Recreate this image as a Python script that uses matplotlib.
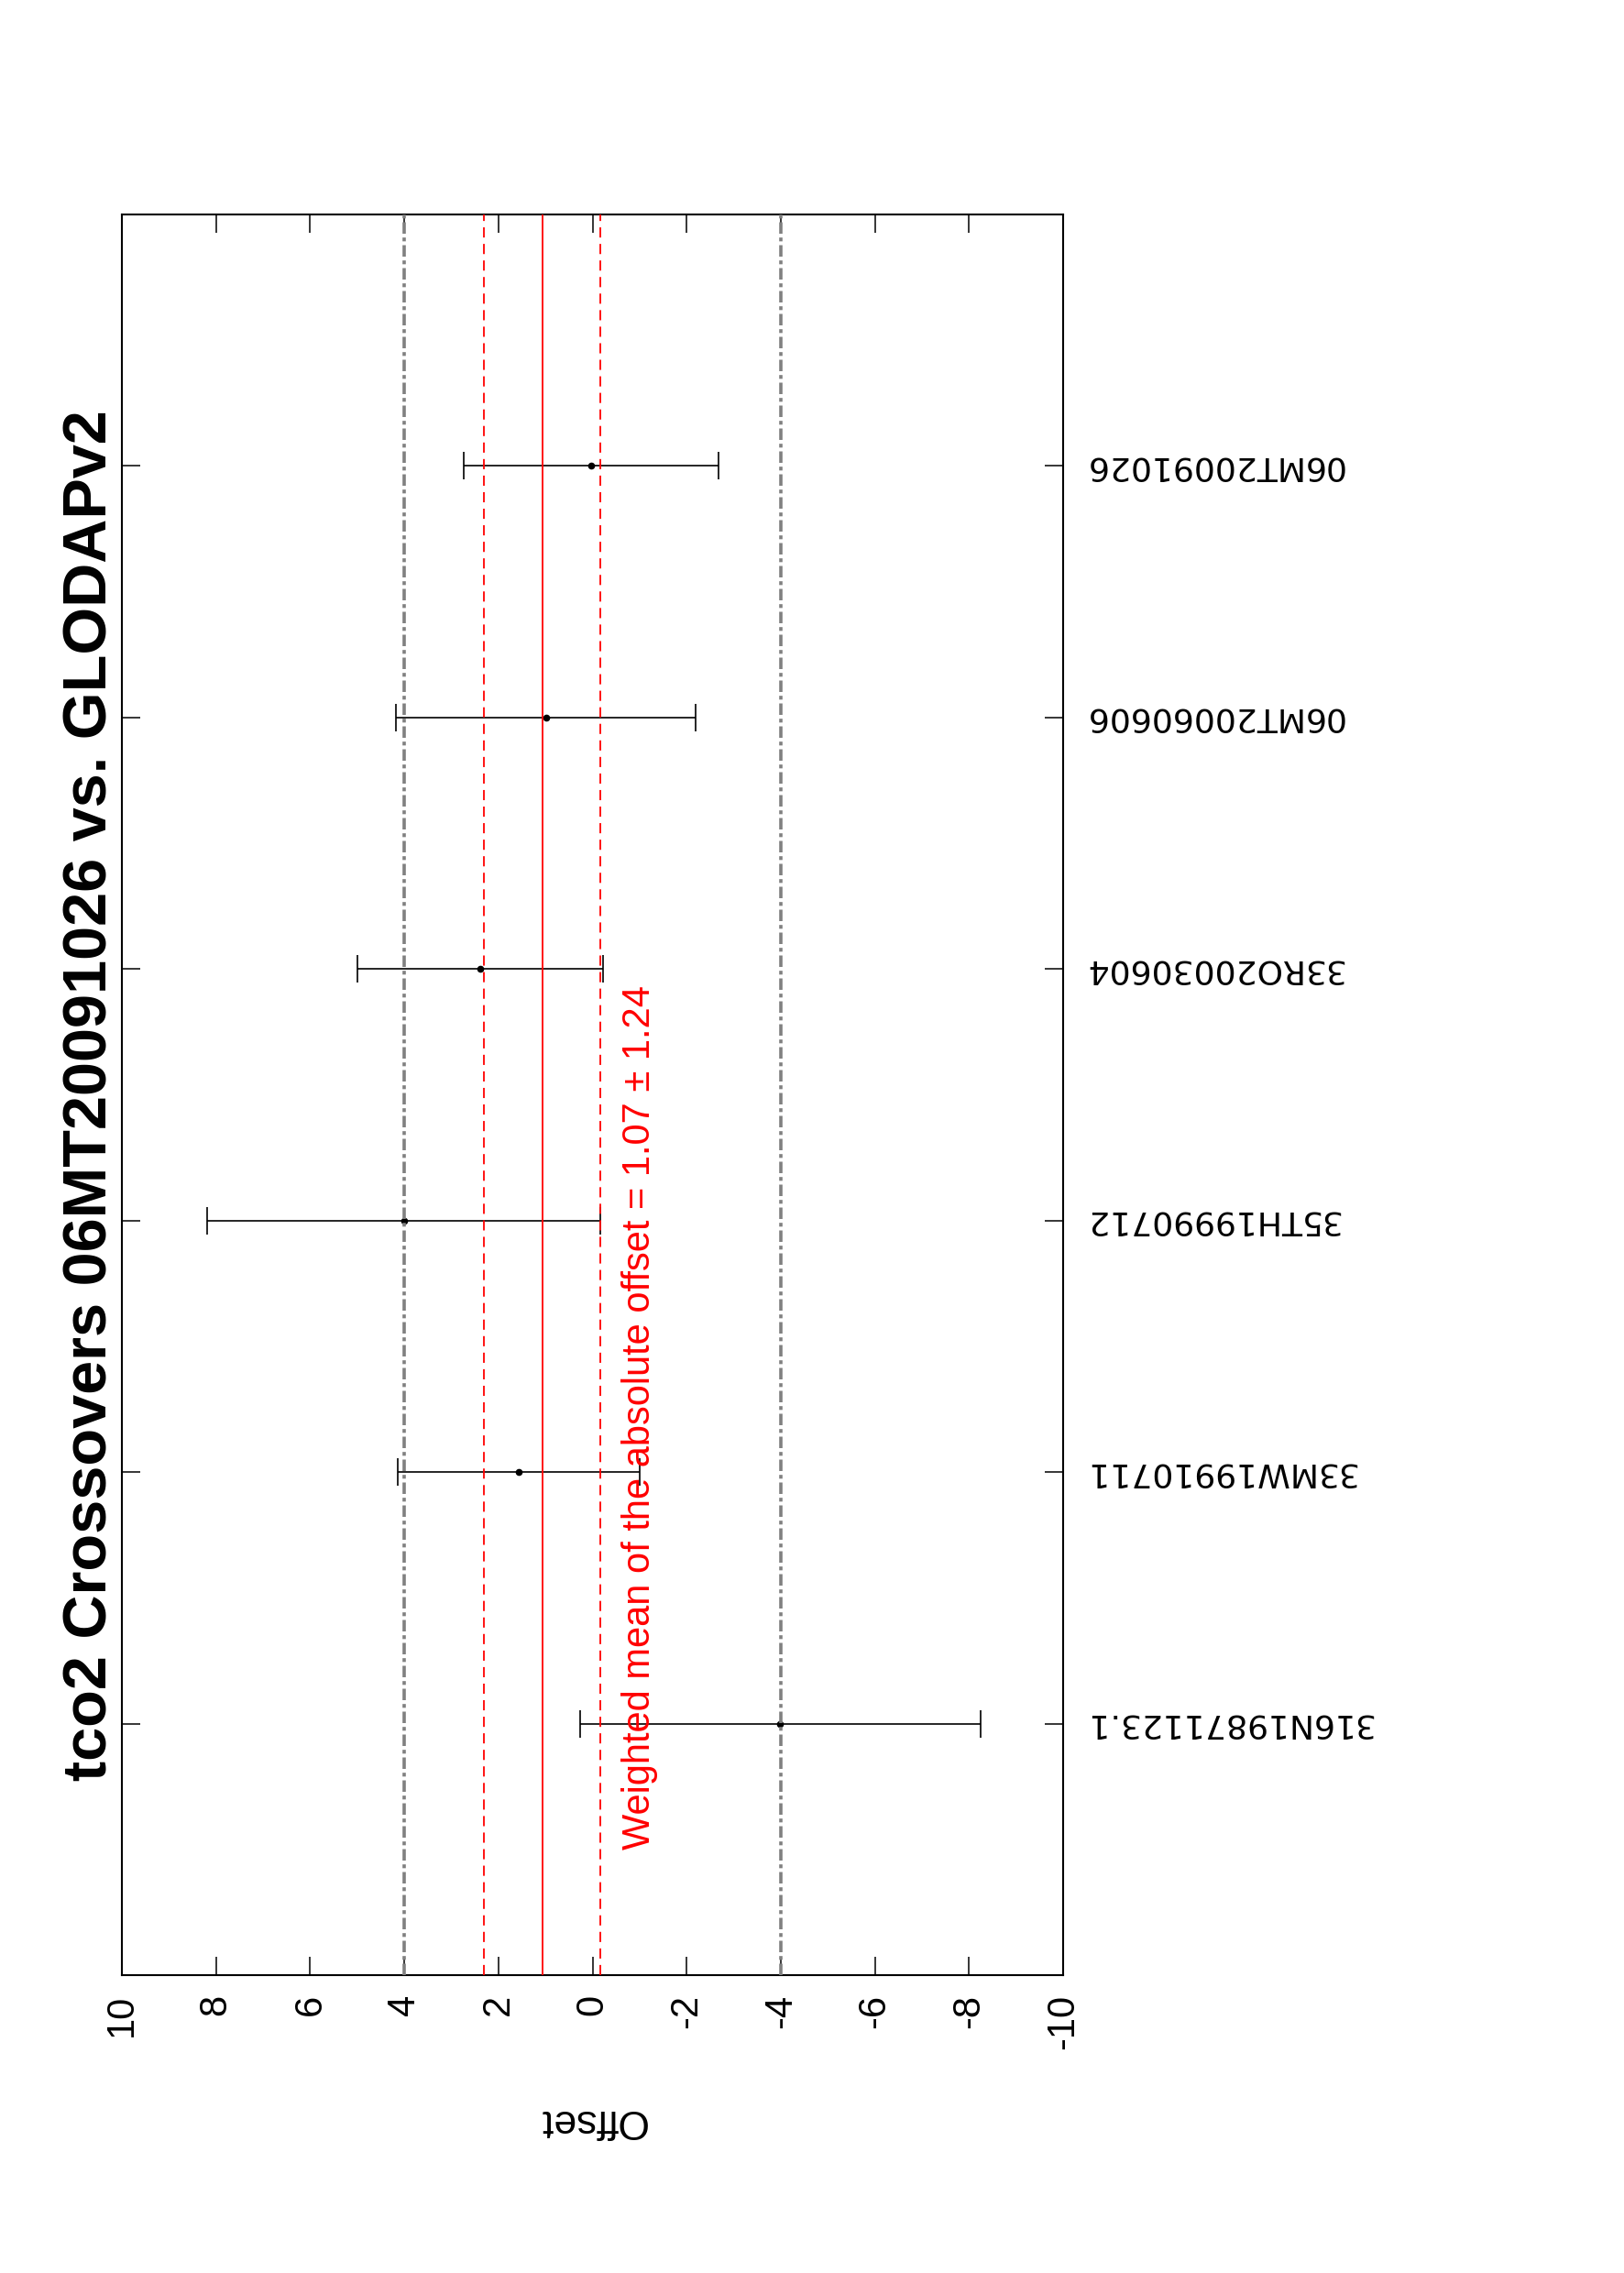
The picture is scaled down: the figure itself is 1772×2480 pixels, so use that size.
import matplotlib
matplotlib.use("Agg")
import matplotlib.pyplot as plt

plt.rcParams['font.family'] = ['Liberation Sans', 'DejaVu Sans']
plt.rcParams['lines.scale_dashes'] = False

# ---- data ----
cruises = ["316N19871123.1", "33MW19910711", "35TH19990712",
           "33RO20030604", "06MT20060606", "06MT20091026"]
offsets = [-3.99, 1.56, 4.01, 2.38, 0.99, 0.03]
errors = [4.25, 2.57, 4.18, 2.61, 3.19, 2.71]
wmean = 1.07
wstd = 1.24
limit = 4
xticks = [10, 8, 6, 4, 2, 0, -2, -4, -6, -8, -10]
title = "tco2 Crossovers 06MT20091026 vs. GLODAPv2"
ylabel = "Offset"
note = "Weighted mean of the absolute offset = %.2f \u00b1 %.2f" % (wmean, wstd)

W, H = 1772, 2480
fig = plt.figure(figsize=(W / 100, H / 100), dpi=100)
ax = fig.add_axes([133 / W, 1 - 2155 / H, (1160 - 133) / W, (2155 - 234) / H])

pos = list(range(1, len(cruises) + 1))
ax.errorbar(offsets, pos, xerr=errors, fmt='o', color='black', ms=4.5,
            elinewidth=1.2, capsize=10.5, capthick=1.2, zorder=2)

# reference lines
for v in (limit, -limit):
    ax.axvline(v, color='#808080', lw=2.6, ls=(0, (9, 3, 3, 3)), zorder=3)
ax.axvline(wmean, color='red', lw=1.3, zorder=3)
for v in (wmean + wstd, wmean - wstd):
    ax.axvline(v, color='red', lw=1.3, ls=(0, (8, 5)), zorder=3)

ax.set_xlim(10, -10)
ax.set_ylim(0, len(cruises) + 1)
ax.set_xticks(xticks)
ax.set_xticklabels([str(t) for t in xticks])
ax.set_yticks(pos)
ax.set_yticklabels(cruises)

ax.tick_params(axis='both', direction='in', length=14.5, width=1.1,
               top=True, bottom=True, left=True, right=True)
ax.tick_params(axis='x', labelsize=30, pad=15, labelrotation=90)
ax.tick_params(axis='y', labelleft=False, labelright=True, pad=16,
               labelrotation=180)
for lab in ax.get_xticklabels():
    lab.set_va('top')
    lab.set_ha('center')
for lab in ax.get_yticklabels():
    lab.set_ha('left')
    lab.set_va('center')
    lab.set_fontfamily('DejaVu Sans')
    lab.set_fontsize(26)

for s in ax.spines.values():
    s.set_linewidth(1.5)

ax.text(-1.0, 0.5, note, color='red', fontsize=30, rotation=90,
        ha='center', va='bottom', zorder=4)

fig.text(100 / W, 1 - 1195 / H, title, fontsize=48, fontweight='bold',
         rotation=90, ha='center', va='center')
fig.text(646 / W, 1 - 2313 / H, ylabel, fontsize=32, rotation=180,
         ha='center', va='center')

fig.savefig("out.png", dpi=100)
